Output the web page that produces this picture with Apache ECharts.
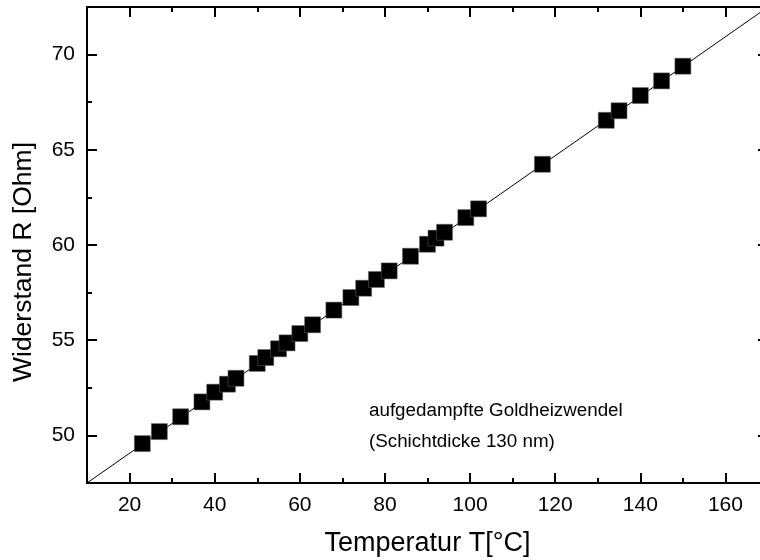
<!DOCTYPE html>
<html>
<head>
<meta charset="utf-8">
<script src="https://cdn.jsdelivr.net/npm/echarts@6/dist/echarts.min.js"></script>
<style>html,body{margin:0;padding:0;background:#fff;}#c{width:760px;height:560px;}</style>
</head>
<body>
<div id="c"></div>
<script>
// Measured data: temperature T [°C] and resistance R [Ohm]
var temperature = [23, 27, 32, 37, 40, 43, 45, 50, 52, 55, 57, 60, 63, 68, 72, 75, 78, 81, 86, 90, 92, 94, 99, 102, 117, 132, 135, 140, 145, 150];
var resistance  = [49.57, 50.2, 50.98, 51.76, 52.27, 52.69, 53.0, 53.78, 54.09, 54.55, 54.86, 55.35, 55.81, 56.58, 57.24, 57.73, 58.19, 58.64, 59.41, 60.04, 60.36, 60.67, 61.44, 61.9, 64.24, 66.55, 67.05, 67.85, 68.62, 69.39];
// Linear fit line end points
var fitT = [10, 170];
var fitR = [47.5, 72.5];
// Tick labels / positions
var xMajorTicks = [20, 40, 60, 80, 100, 120, 140, 160];
var yMajorTicks = [50, 55, 60, 65, 70];
var annotation = ['aufgedampfte Goldheizwendel', '(Schichtdicke 130 nm)'];

var FONT = 'Liberation Sans, Arial, sans-serif';
var scatterData = temperature.map(function (t, i) { return [t, resistance[i]]; });
var fitData = fitT.map(function (t, i) { return [t, fitR[i]]; });

var lineStyleAxis = { color: '#000', width: 2 };
function majorX(pos, labels) {
  return {
    type: 'value', gridIndex: 0, position: pos, min: 10, max: 170,
    axisLine: { show: true, onZero: false, lineStyle: lineStyleAxis },
    axisTick: { show: true, inside: true, length: 10, lineStyle: { color: '#000', width: 2 }, customValues: xMajorTicks },
    axisLabel: { show: labels, customValues: xMajorTicks, color: '#000', fontSize: 21, fontFamily: FONT, margin: 12 },
    splitLine: { show: false },
    name: labels ? 'Temperatur T[°C]' : '', nameLocation: 'middle', nameGap: 47,
    nameTextStyle: { color: '#000', fontSize: 27, fontFamily: FONT }
  };
}
function minorX(pos) {
  return {
    type: 'value', gridIndex: 1, position: pos, min: 10, max: 170, interval: 10,
    axisLine: { show: false, onZero: false },
    axisTick: { show: true, inside: true, length: 5, lineStyle: { color: '#000', width: 2 } },
    axisLabel: { show: false }, splitLine: { show: false }
  };
}
function majorY(pos, labels) {
  return {
    type: 'value', gridIndex: 0, position: pos, min: 47.5, max: 72.5,
    axisLine: { show: true, onZero: false, lineStyle: lineStyleAxis },
    axisTick: { show: true, inside: true, length: 10, lineStyle: { color: '#000', width: 2 }, customValues: yMajorTicks },
    axisLabel: { show: labels, customValues: yMajorTicks, color: '#000', fontSize: 21, fontFamily: FONT, margin: 12 },
    splitLine: { show: false }
  };
}
function minorY(pos) {
  return {
    type: 'value', gridIndex: 1, position: pos, min: 47.5, max: 72.5, interval: 2.5,
    axisLine: { show: false, onZero: false },
    axisTick: { show: true, inside: true, length: 5, lineStyle: { color: '#000', width: 2 } },
    axisLabel: { show: false }, splitLine: { show: false }
  };
}

var chart = echarts.init(document.getElementById('c'), null, { renderer: 'canvas' });
chart.setOption({
  animation: false,
  backgroundColor: '#fff',
  grid: [
    { left: 87, top: 7, width: 681, height: 476, outerBoundsMode: 'none', containLabel: false },
    { left: 87, top: 7, width: 681, height: 476, outerBoundsMode: 'none', containLabel: false }
  ],
  xAxis: [majorX('bottom', true), majorX('top', false), minorX('bottom'), minorX('top')],
  yAxis: [majorY('left', true), majorY('right', false), minorY('left'), minorY('right')],
  graphic: [
    { type: 'text', x: 24, y: 262, rotation: Math.PI / 2,
      style: { text: 'Widerstand R [Ohm]', font: '26.5px ' + FONT, fill: '#000', textAlign: 'center', textVerticalAlign: 'middle' } },
    { type: 'text', x: 369, y: 411,
      style: { text: annotation[0], font: '18.8px ' + FONT, fill: '#000', textAlign: 'left', textVerticalAlign: 'middle' } },
    { type: 'text', x: 369, y: 442,
      style: { text: annotation[1], font: '18.8px ' + FONT, fill: '#000', textAlign: 'left', textVerticalAlign: 'middle' } }
  ],
  series: [
    { type: 'line', xAxisIndex: 0, yAxisIndex: 0, data: fitData, showSymbol: false, symbol: 'none',
      lineStyle: { color: '#000', width: 1 }, z: 2, silent: true },
    { type: 'scatter', xAxisIndex: 0, yAxisIndex: 0, data: scatterData, symbol: 'rect', symbolSize: 16,
      itemStyle: { color: '#000', opacity: 1, borderColor: '#666', borderWidth: 0.5 }, z: 3 }
  ]
});
</script>
</body>
</html>
